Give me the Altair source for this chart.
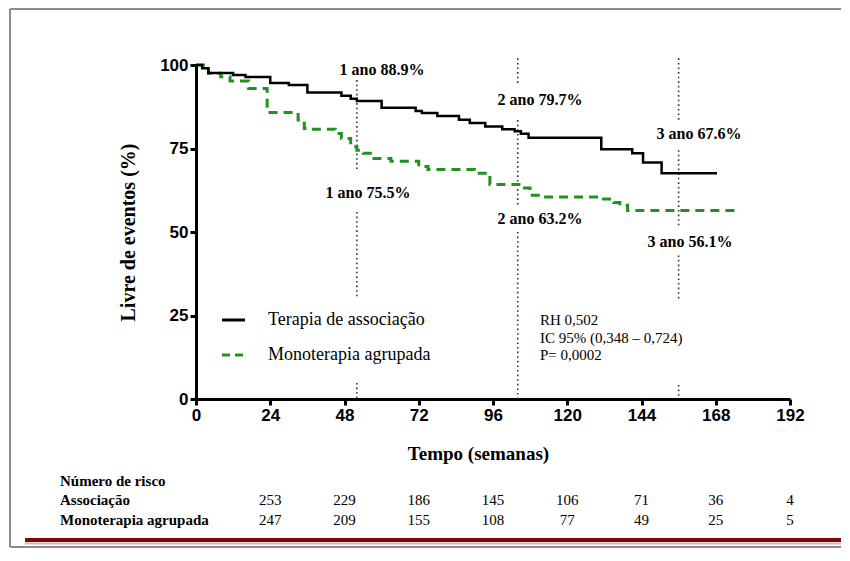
import altair as alt
import pandas as pd

# ---------------- data ----------------
assoc_weeks = [0, 2, 4, 12, 16, 24, 30, 36, 47, 50, 52, 60, 71, 73, 78, 85, 88.5, 93.5, 99, 103, 105, 107.5, 131, 141, 144.5, 150.5, 168.4]
assoc_surv = [100, 99, 97.6, 97.0, 96.4, 94.6, 94.0, 91.8, 90.8, 89.9, 89.2, 87.2, 86.2, 85.6, 84.7, 83.6, 82.6, 81.6, 80.8, 80.2, 79.4, 78.2, 74.8, 73.6, 70.8, 67.6, 67.6]

mono_weeks = [0, 4, 8, 11, 17, 23, 33, 35, 37, 45, 47, 50, 52, 54, 57, 63, 72, 75, 90, 95, 105, 108, 113, 131, 135, 137, 139.5, 175]
mono_surv = [100, 97.5, 96.5, 95.2, 93.0, 85.8, 83.5, 81.0, 80.8, 79.5, 78.0, 75.5, 74.5, 73.6, 72.0, 71.2, 69.6, 68.7, 67.6, 64.2, 63.2, 61.0, 60.5, 59.9, 58.8, 58.0, 56.4, 56.4]

x_ticks = [0, 24, 48, 72, 96, 120, 144, 168, 192]
y_ticks = [0, 25, 50, 75, 100]

# landmark annotations
ann_text = ["1 ano 88.9%", "2 ano 79.7%", "3 ano 67.6%", "1 ano 75.5%", "2 ano 63.2%", "3 ano 56.1%"]
ann_week = [60.1, 111.2, 162.6, 55.6, 111.2, 159.7]
ann_surv = [98.5, 89.5, 79.3, 61.7, 53.9, 47.0]

# dotted landmark lines (visible segments)
seg_week = [52, 52, 52, 104, 104, 104, 156, 156, 156, 156]
seg_from = [95.5, 56.0, 4.8, 102.0, 83.5, 50.0, 102.0, 74.5, 43.0, 4.2]
seg_to = [68.0, 30.2, 0.0, 94.0, 58.0, 0.0, 83.0, 52.0, 30.0, 0.0]

# number at risk
risk_weeks = [24, 48, 72, 96, 120, 144, 168, 192]
risk_assoc = [253, 229, 186, 145, 106, 71, 36, 4]
risk_mono = [247, 209, 155, 108, 77, 49, 25, 5]

SERIF = "Liberation Serif"
SANS = "Liberation Sans"

# ---------------- frames ----------------
df_assoc = pd.DataFrame({"week": assoc_weeks, "surv": assoc_surv})
df_mono = pd.DataFrame({"week": mono_weeks, "surv": mono_surv})
df_ann = pd.DataFrame({"week": ann_week, "surv": ann_surv, "label": ann_text})
df_seg = pd.DataFrame({"week": seg_week, "surv": seg_from, "surv2": seg_to})
df_risk_a = pd.DataFrame({"week": risk_weeks, "n": risk_assoc})
df_risk_m = pd.DataFrame({"week": risk_weeks, "n": risk_mono})
one = pd.DataFrame({"k": [0]})

xscale = alt.Scale(domain=[0, 192], nice=False, zero=False)
yscale = alt.Scale(domain=[0, 100], nice=False)

X = alt.X(
    "week:Q",
    scale=xscale,
    axis=alt.Axis(
        values=x_ticks,
        title="Tempo (semanas)",
        titleFont=SERIF,
        titleFontSize=19,
        titleFontWeight="bold",
        titleColor="black",
        titleX=282,
        titleY=54,
        titleAlign="center",
        titleBaseline="middle",
        labelFont=SANS,
        labelFontSize=17,
        labelFontWeight="bold",
        labelColor="black",
        labelPadding=2,
        labelFlush=False,
        domainColor="black",
        domainWidth=3,
        tickColor="black",
        tickWidth=3,
        tickSize=6,
        grid=False,
    ),
)
Y = alt.Y(
    "surv:Q",
    scale=yscale,
    axis=alt.Axis(
        values=y_ticks,
        title="Livre de eventos (%)",
        titleFont=SERIF,
        titleFontSize=20,
        titleFontWeight="bold",
        titleColor="black",
        titleAngle=-90,
        titleX=-68,
        titleY=167,
        titleAlign="center",
        titleBaseline="middle",
        labelFont=SANS,
        labelFontSize=17,
        labelFontWeight="bold",
        labelColor="black",
        labelPadding=2,
        labelFlush=False,
        domainColor="black",
        domainWidth=3,
        tickColor="black",
        tickWidth=3,
        tickSize=6,
        grid=False,
    ),
)

assoc_line = alt.Chart(df_assoc).mark_line(
    interpolate="step-after", color="black", strokeWidth=2.5
).encode(x=X, y=Y)

mono_line = alt.Chart(df_mono).mark_line(
    interpolate="step-after", color="#1f931f", strokeWidth=3, strokeDash=[9, 6]
).encode(x=X, y=Y)

segs = alt.Chart(df_seg).mark_rule(
    color="#333333", strokeWidth=1.6, strokeDash=[1.6, 3]
).encode(x=X, y=Y, y2=alt.Y2("surv2"))

ann = alt.Chart(df_ann).mark_text(
    font=SERIF, fontSize=16, fontWeight="bold", color="black", align="center", baseline="middle"
).encode(x=X, y=Y, text="label:N")


def label(txt, x, y, size, weight="normal", align="left", font=SERIF):
    return alt.Chart(one).mark_text(
        text=txt, align=align, baseline="middle", font=font,
        fontSize=size, fontWeight=weight, color="black"
    ).encode(x=alt.value(x), y=alt.value(y))


# legend
leg_black = alt.Chart(one).mark_rule(color="black", strokeWidth=3).encode(
    x=alt.value(26), x2=alt.value(49), y=alt.value(255))
leg_green = alt.Chart(one).mark_rule(color="#1f931f", strokeWidth=3, strokeDash=[8, 5]).encode(
    x=alt.value(26), x2=alt.value(49), y=alt.value(290))
leg_t1 = label("Terapia de associação", 72, 255, 18)
leg_t2 = label("Monoterapia agrupada", 72, 290, 18)

# statistics
st1 = label("RH 0,502", 344, 255, 15)
st2 = label("IC 95% (0,348 – 0,724)", 344, 273, 15)
st3 = label("P= 0,0002", 344, 290, 15)

# risk table
rt0 = label("Número de risco", -136, 416, 15, "bold")
rt1 = label("Associação", -136, 435, 15, "bold")
rt2 = label("Monoterapia agrupada", -136, 455, 15, "bold")
risk_a = alt.Chart(df_risk_a).mark_text(
    font=SERIF, fontSize=15, color="black", align="center", baseline="middle"
).encode(x=X, y=alt.value(435), text="n:Q")
risk_m = alt.Chart(df_risk_m).mark_text(
    font=SERIF, fontSize=15, color="black", align="center", baseline="middle"
).encode(x=X, y=alt.value(455), text="n:Q")

# decorative frame and red rule
frame_left = alt.Chart(one).mark_rule(color="#8c8c8c", strokeWidth=2).encode(
    x=alt.value(-186), y=alt.value(-56), y2=alt.value(482))
frame_top = alt.Chart(one).mark_rule(color="#8c8c8c", strokeWidth=2).encode(
    x=alt.value(-186), x2=alt.value(645), y=alt.value(-56))
frame_bottom = alt.Chart(one).mark_rule(color="#8c8c8c", strokeWidth=2).encode(
    x=alt.value(-186), x2=alt.value(645), y=alt.value(482))
red_shadow = alt.Chart(one).mark_rule(color="#d9b3b3", strokeWidth=2).encode(
    x=alt.value(-171), x2=alt.value(645), y=alt.value(478.5))
red_line = alt.Chart(one).mark_rule(color="#7a0a0a", strokeWidth=4).encode(
    x=alt.value(-171), x2=alt.value(645), y=alt.value(475))

chart = alt.layer(
    segs, mono_line, assoc_line, ann,
    leg_black, leg_green, leg_t1, leg_t2,
    st1, st2, st3,
    rt0, rt1, rt2, risk_a, risk_m,
    frame_left, frame_top, frame_bottom, red_shadow, red_line,
).properties(
    width=594,
    height=334,
    autosize=alt.AutoSizeParams(type="none"),
    padding={"left": 188, "top": 57, "right": 52, "bottom": 149},
    background="white",
).configure_view(stroke=None)

chart.save("out.html", embed_options={"renderer": "svg", "actions": False})
